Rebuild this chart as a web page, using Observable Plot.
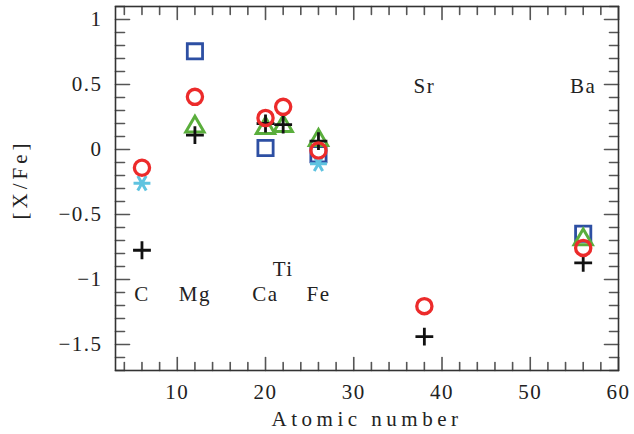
<!DOCTYPE html>
<html><head><meta charset="utf-8">
<script src="https://cdn.jsdelivr.net/npm/d3@7"></script>
<script src="https://cdn.jsdelivr.net/npm/@observablehq/plot@0.6"></script>
<style>html,body{margin:0;padding:0;background:#fff;}</style>
</head><body><div id="chart"></div>
<script>
// Elements and atomic numbers
const elements = ["C", "Mg", "Ca", "Ti", "Fe", "Sr", "Ba"];
const atomicNumber = [6, 12, 20, 22, 26, 38, 56];
// [X/Fe] values per symbol series (null = not plotted)
const squareValues   = [null, 0.755, 0.012, null, -0.036, null, -0.648];
const triangleValues = [null, 0.175, 0.164, 0.18, 0.072, null, -0.692];
const asteriskValues = [-0.26, null, null, null, -0.11, null, null];
const plusValues     = [-0.775, 0.11, 0.2, 0.192, 0.064, -1.44, -0.872];
const circleValues   = [-0.14, 0.405, 0.243, 0.328, -0.008, -1.205, -0.757];
// element label heights (data units)
const labelY = [-1.11, -1.11, -1.11, -0.92, -1.11, 0.49, 0.49];
// tick labels
const xTickLabels = [10, 20, 30, 40, 50, 60];
const yTickLabels = [-1.5, -1, -0.5, 0, 0.5, 1];

const series = (vals) => atomicNumber.map((z, i) => ({z, v: vals[i]})).filter(d => d.v != null);
const labels = elements.map((e, i) => ({e, z: atomicNumber[i], y: labelY[i]}));

const xMinor = d3.range(4, 60, 2).filter(v => v % 10 !== 0);
const yAll = d3.range(-17, 12).map(v => v / 10);
const yMinor = yAll.filter(v => Math.abs(v * 2 - Math.round(v * 2)) > 1e-6);

const tickShape = {draw(context, l) { context.moveTo(0, 0); context.lineTo(0, -l); }};
const tickStyle = {stroke: "#555", strokeWidth: 1.6, anchor: "start", shape: tickShape};
const fmt = d => (d < 0 ? "\u2212" : "") + String(Math.abs(d));

const chart = Plot.plot({
  width: 634,
  height: 434,
  marginLeft: 115,
  marginRight: 16,
  marginTop: 6,
  marginBottom: 64,
  style: "font-family: 'Liberation Serif', 'DejaVu Serif', serif; font-size: 21px; color: #222; background: #fff; letter-spacing: 1.5px;",
  x: {domain: [3, 60], label: null},
  y: {domain: [-1.7, 1.1], label: null},
  marks: [
    // ticks, inward on all four sides
    Plot.vector(xTickLabels, {x: d => d, frameAnchor: "bottom", rotate: 0, length: 13, ...tickStyle}),
    Plot.vector(xMinor, {x: d => d, frameAnchor: "bottom", rotate: 0, length: 8, ...tickStyle}),
    Plot.vector(xTickLabels, {x: d => d, frameAnchor: "top", rotate: 180, length: 13, ...tickStyle}),
    Plot.vector(xMinor, {x: d => d, frameAnchor: "top", rotate: 180, length: 8, ...tickStyle}),
    Plot.vector(yTickLabels, {y: d => d, frameAnchor: "left", rotate: 90, length: 14, ...tickStyle}),
    Plot.vector(yMinor, {y: d => d, frameAnchor: "left", rotate: 90, length: 9, ...tickStyle}),
    Plot.vector(yTickLabels, {y: d => d, frameAnchor: "right", rotate: 270, length: 14, ...tickStyle}),
    Plot.vector(yMinor, {y: d => d, frameAnchor: "right", rotate: 270, length: 9, ...tickStyle}),
    Plot.frame({stroke: "#333", strokeWidth: 1.6}),
    Plot.axisX({ticks: xTickLabels, tickFormat: fmt, tickSize: 0, tickPadding: 14, fontSize: 21, label: null}),
    Plot.axisY({ticks: yTickLabels, tickFormat: fmt, tickSize: 0, tickPadding: 13, fontSize: 21, label: null}),
    // axis titles
    Plot.text(["Atomic number"], {text: d => d, frameAnchor: "bottom", dy: 55, fontSize: 21, fill: "#222"}),
    Plot.text(["[X/Fe]"], {text: d => d, frameAnchor: "left", dx: -95, dy: 31, rotate: -90, fontSize: 21, fill: "#222"}),
    // element labels
    Plot.text(labels, {x: "z", y: "y", text: "e", fontSize: 21, fill: "#222"}),
    // data
    Plot.dot(series(squareValues), {x: "z", y: "v", symbol: "square", r: 8.6, stroke: "#2d4fa3", strokeWidth: 2.8, fill: "none"}),
    Plot.dot(series(triangleValues), {x: "z", y: "v", symbol: "triangle", r: 6.8, stroke: "#5aae3c", strokeWidth: 3, fill: "none"}),
    Plot.dot(series(asteriskValues), {x: "z", y: "v", symbol: "asterisk", rotate: 90, r: 8, stroke: "#5fc3e0", strokeWidth: 3, fill: "none"}),
    Plot.dot(series(plusValues), {x: "z", y: "v", symbol: "plus", r: 5.8, stroke: "#111", strokeWidth: 2.8, fill: "none"}),
    Plot.dot(series(circleValues), {x: "z", y: "v", symbol: "circle", r: 7.6, stroke: "#ec2b2b", strokeWidth: 3.3, fill: "none"})
  ]
});
d3.select(chart).selectAll("text")
  .filter(function() { return this.textContent === "Atomic number"; })
  .style("letter-spacing", "4.5px");
d3.select(chart).selectAll("text")
  .filter(function() { return this.textContent === "[X/Fe]"; })
  .style("letter-spacing", "4px");
document.getElementById("chart").appendChild(chart);
</script>
</body></html>
